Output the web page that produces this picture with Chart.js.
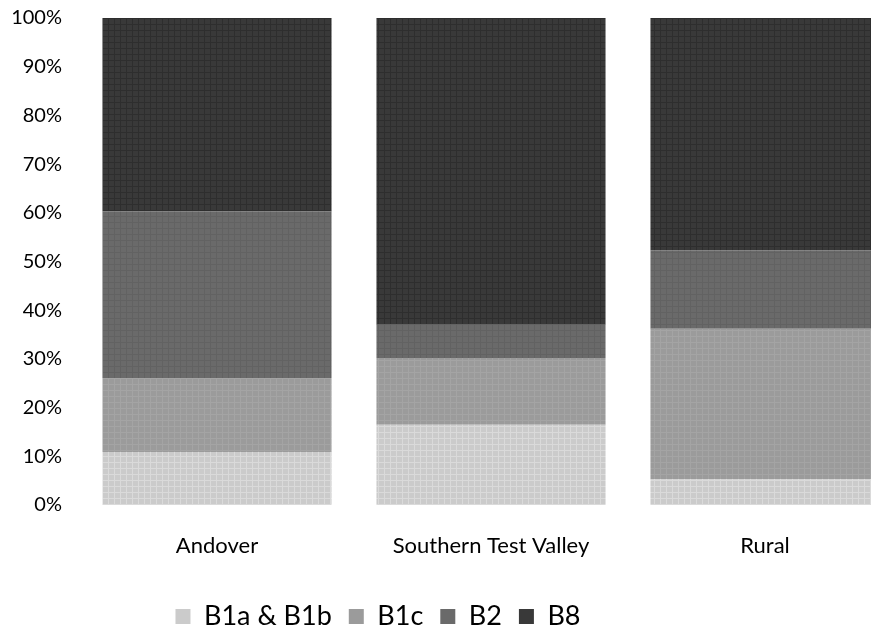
<!DOCTYPE html>
<html>
<head>
<meta charset="utf-8">
<script src="https://cdn.jsdelivr.net/npm/chart.js@4/dist/chart.umd.min.js"></script>
<style>
  html, body { margin: 0; padding: 0; background: #fff; overflow: hidden; }
  #wrap { width: 871px; height: 632px; overflow: hidden; }
  canvas { display: block; }
</style>
</head>
<body>
<div id="wrap"><canvas id="c" width="902" height="632"></canvas></div>
<script>
// Share of floorspace by use class (%), per area
const areas = ['Andover', 'Southern Test Valley', 'Rural'];
const seriesNames = ['B1a & B1b', 'B1c', 'B2', 'B8'];
const b1ab = [10.9, 16.5, 5.3];
const b1c  = [15.2, 13.7, 30.9];
const b2   = [34.2, 6.8, 16.1];
const b8   = [39.7, 63.0, 47.7];
const yTicks = [0, 10, 20, 30, 40, 50, 60, 70, 80, 90, 100];

// Fine plaid fill for each series
function plaid(base, line, step) {
  const t = document.createElement('canvas');
  t.width = step; t.height = step;
  const g = t.getContext('2d');
  g.fillStyle = base;
  g.fillRect(0, 0, step, step);
  g.fillStyle = line;
  g.fillRect(0, 0, 1, step);
  g.fillRect(0, 0, step, 1);
  return g.createPattern(t, 'repeat');
}
const ctx = document.getElementById('c').getContext('2d');
const fills = [
  plaid('#cbcbcb', '#dadada', 6),
  plaid('#9b9b9b', '#a4a4a4', 6),
  plaid('#6a6a6a', '#626262', 6),
  plaid('#393939', '#2e2e2e', 6)
];
const swatch = ['#cbcbcb', '#9b9b9b', '#6a6a6a', '#393939'];
const values = [b1ab, b1c, b2, b8];

const FONT = 'Lato, "Liberation Sans", sans-serif';

// Move the legend row left of centre and a little lower
const legendShift = {
  id: 'legendShift',
  beforeDraw(chart) {
    const lg = chart.legend;
    if (lg && !lg._shifted) {
      lg.left -= 73; lg.right -= 73;
      lg.top += 8; lg.bottom += 8;
      lg._shifted = true;
    }
  },
  afterLayout(chart) {
    if (chart.legend) chart.legend._shifted = false;
  }
};

new Chart(ctx, {
  type: 'bar',
  data: {
    labels: areas,
    datasets: seriesNames.map((name, i) => ({
      label: name,
      data: values[i],
      backgroundColor: fills[i],
      borderWidth: 0,
      categoryPercentage: 1,
      barPercentage: 0.836
    }))
  },
  options: {
    responsive: false,
    animation: false,
    layout: { padding: { top: 18, left: 0, right: 0, bottom: 0 } },
    scales: {
      x: {
        stacked: true,
        grid: { display: false, drawTicks: false },
        border: { display: false },
        ticks: { color: '#000', font: { family: FONT, size: 22 }, padding: 28, maxRotation: 0 },
        afterFit(s) { s.height = 73; }
      },
      y: {
        stacked: true,
        min: 0, max: 100,
        afterBuildTicks(s) { s.ticks = yTicks.map(v => ({ value: v })); },
        grid: { display: false, drawTicks: false },
        border: { display: false },
        ticks: { color: '#000', font: { family: FONT, size: 20 }, padding: 18, callback: v => v + '%' },
        afterFit(s) { s.width = 80; s.paddingTop = 0; s.paddingBottom = 0; }
      }
    },
    plugins: {
      tooltip: { enabled: false },
      legend: {
        position: 'bottom',
        labels: {
          color: '#000',
          font: { family: FONT, size: 27 },
          boxWidth: 15, boxHeight: 15,
          padding: 17,
          generateLabels(chart) {
            return seriesNames.map((n, i) => ({
              text: n, fillStyle: swatch[i], strokeStyle: swatch[i], lineWidth: 0, datasetIndex: i
            }));
          }
        }
      }
    }
  },
  plugins: [legendShift]
});
</script>
</body>
</html>
